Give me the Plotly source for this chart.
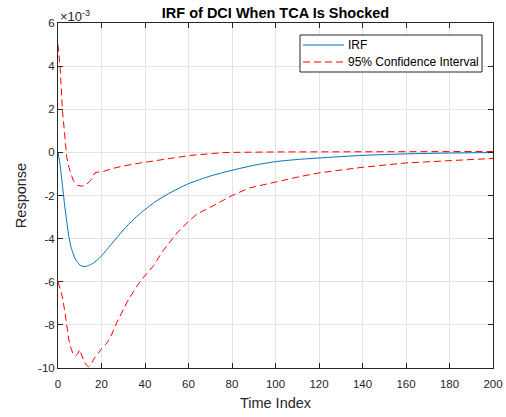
import plotly.graph_objects as go

# values in units of 1e-3
irf_x = [0, 1, 2, 3, 4, 5, 6, 8, 10, 12, 14, 16, 18, 20, 25, 30, 35, 40, 45, 50,
         60, 70, 80, 90, 100, 110, 120, 140, 160, 180, 200]
irf_y = [0, -0.6, -1.5, -2.4, -3.2, -3.9, -4.4, -4.95, -5.22, -5.3, -5.25, -5.15, -5.0,
         -4.8, -4.2, -3.6, -3.08, -2.65, -2.27, -1.96, -1.45, -1.1, -0.83, -0.6, -0.43,
         -0.33, -0.26, -0.14, -0.07, -0.03, -0.01]

upper_x = [0, 1, 2, 3, 4, 5, 6, 7, 8, 9, 11, 13, 15, 16, 17, 18, 21, 25, 30, 38, 45,
           53, 60, 64, 70, 75, 80, 100, 150, 200]
upper_y = [5.0, 3.9, 2.0, 0.7, -0.2, -0.7, -1.05, -1.3, -1.45, -1.53, -1.57, -1.5,
           -1.3, -1.12, -0.95, -0.92, -0.88, -0.75, -0.63, -0.49, -0.37, -0.26, -0.15,
           -0.11, -0.05, -0.02, 0.0, 0.02, 0.03, 0.04]

lower_x = [0, 1, 2, 3, 4, 5, 6, 7, 8, 9, 10, 11, 12, 13, 14, 15, 16, 17, 19, 20, 22,
           24, 27, 30, 32, 35, 38, 41, 44, 48, 50, 55, 60, 64, 70, 80, 88, 100, 110,
           120, 140, 160, 180, 200]
lower_y = [-6.0, -6.3, -6.7, -7.3, -8.0, -8.7, -9.1, -9.35, -9.45, -9.35, -9.15, -9.45,
           -9.7, -9.85, -9.95, -9.85, -9.65, -9.5, -9.25, -9.1, -8.9, -8.6, -7.9, -7.3,
           -6.9, -6.4, -5.95, -5.6, -5.25, -4.6, -4.35, -3.7, -3.2, -2.85, -2.55, -2.0,
           -1.65, -1.37, -1.15, -0.95, -0.69, -0.49, -0.38, -0.28]

x_ticks = [0, 20, 40, 60, 80, 100, 120, 140, 160, 180, 200]
y_ticks = [-10, -8, -6, -4, -2, 0, 2, 4, 6]
y_ticktext = [str(v) for v in y_ticks]

series_names = ["IRF", "95% Confidence Interval"]

FONT = "Liberation Sans, Arial, sans-serif"
AX = "#262626"
GRID = "#e3e3e3"
BLUE = "#0072BD"
RED = "#FF0000"
DASH = "7px,4px"

fig = go.Figure()
fig.add_trace(go.Scatter(x=irf_x, y=irf_y, mode="lines", name=series_names[0],
                         showlegend=False,
                         line=dict(color=BLUE, width=1, shape="spline", smoothing=0.6)))
fig.add_trace(go.Scatter(x=upper_x, y=upper_y, mode="lines", name=series_names[1],
                         showlegend=False,
                         line=dict(color=RED, width=1, dash=DASH)))
fig.add_trace(go.Scatter(x=lower_x, y=lower_y, mode="lines", name=series_names[1] + " (lower)",
                         showlegend=False,
                         line=dict(color=RED, width=1, dash=DASH)))

axis_common = dict(showgrid=True, gridcolor=GRID, gridwidth=1, zeroline=False,
                   showline=True, linecolor=AX, linewidth=1, mirror="ticks",
                   ticks="inside", ticklen=5, tickcolor=AX, automargin=False,
                   tickfont=dict(family=FONT, size=11.5, color=AX))

fig.update_xaxes(range=[0, 200], tickvals=x_ticks, ticklabelstandoff=5,
                 title=dict(text="Time Index", font=dict(family=FONT, size=14.5, color=AX),
                            standoff=9),
                 **axis_common)
fig.update_yaxes(range=[-10, 6], tickvals=y_ticks, ticktext=y_ticktext,
                 title=dict(text="Response", font=dict(family=FONT, size=14.5, color=AX),
                            standoff=8),
                 **axis_common)

# plot area in pixels: left 58, right 493, top 23, bottom 368
def px_x(p):
    return (p - 58) / 435.0

def px_y(p):
    return (368 - p) / 345.0

shapes = [
    dict(type="rect", xref="paper", yref="paper", x0=px_x(300), x1=px_x(482),
         y0=px_y(72), y1=px_y(35), line=dict(color=AX, width=1), fillcolor="white",
         layer="above"),
    dict(type="line", xref="paper", yref="paper", x0=px_x(303), x1=px_x(344),
         y0=px_y(45), y1=px_y(45), line=dict(color=BLUE, width=1), layer="above"),
    dict(type="line", xref="paper", yref="paper", x0=px_x(303), x1=px_x(344),
         y0=px_y(62), y1=px_y(62), line=dict(color=RED, width=1, dash=DASH), layer="above"),
]
annotations = [
    dict(text="×10<sup>-3</sup>", xref="paper", yref="paper",
         x=0.0, y=1.0, xanchor="left", yanchor="bottom", yshift=-3,
         showarrow=False, font=dict(family=FONT, size=13, color=AX)),
    dict(text=series_names[0], xref="paper", yref="paper", x=px_x(346), y=px_y(45),
         xanchor="left", yanchor="middle", showarrow=False,
         font=dict(family=FONT, size=12, color="black")),
    dict(text=series_names[1], xref="paper", yref="paper", x=px_x(346), y=px_y(62),
         xanchor="left", yanchor="middle", showarrow=False,
         font=dict(family=FONT, size=12, color="black")),
]

fig.update_layout(
    width=506, height=417,
    margin=dict(l=58, r=13, t=23, b=49),
    paper_bgcolor="white", plot_bgcolor="white",
    font=dict(family=FONT, color=AX),
    title=dict(text="<b>IRF of DCI When TCA Is Shocked</b>",
               font=dict(family=FONT, size=14.5, color="black"),
               x=0.5445, xanchor="center", y=0.969, yanchor="middle"),
    showlegend=False,
    shapes=shapes,
    annotations=annotations,
)

fig.write_html("out.html", config={"displayModeBar": False},
               post_script="document.body.style.margin='0';")
